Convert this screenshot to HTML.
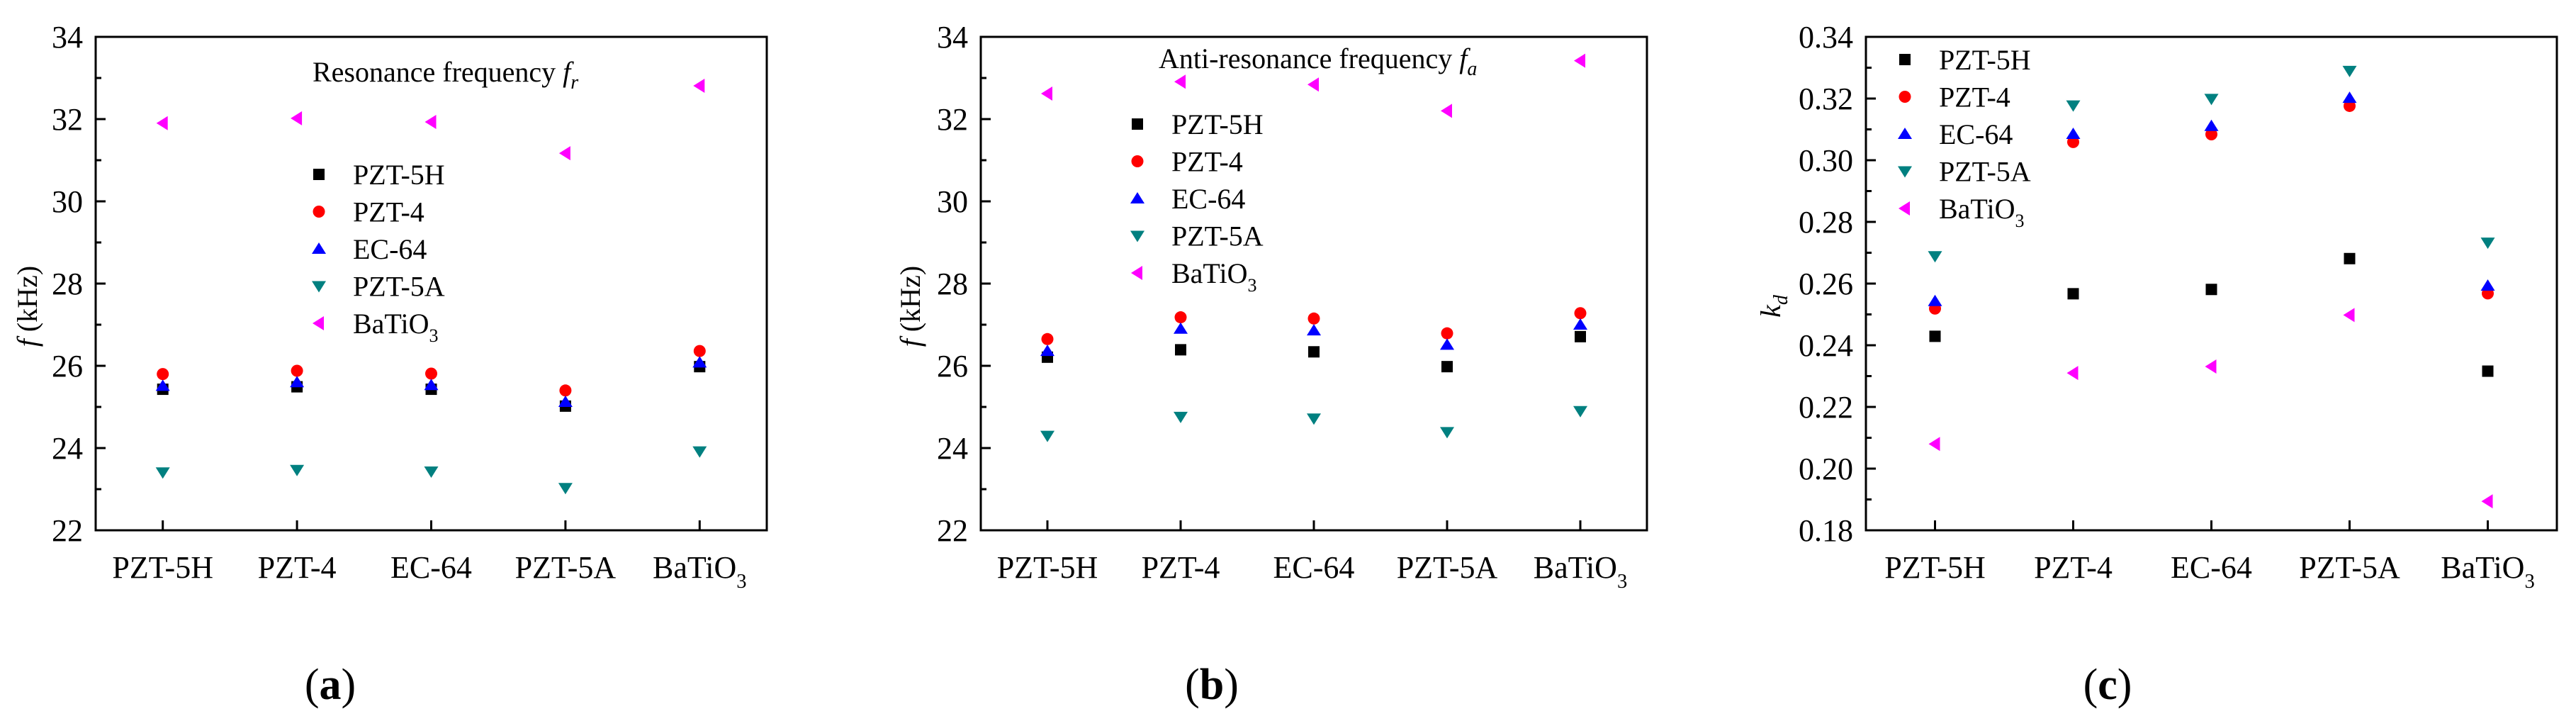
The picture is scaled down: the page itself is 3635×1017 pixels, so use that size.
<!DOCTYPE html>
<html><head><meta charset="utf-8"><style>
html,body{margin:0;padding:0;background:#fff;}
svg{display:block;}
text{font-family:"Liberation Serif",serif;fill:#000;}
</style></head><body>
<svg id="fig" width="3635" height="1017" viewBox="0 0 3635 1017" xmlns="http://www.w3.org/2000/svg"></svg>
<script>
const categories = ["PZT-5H","PZT-4","EC-64","PZT-5A","BaTiO3"];
const seriesNames = ["PZT-5H","PZT-4","EC-64","PZT-5A","BaTiO3"];
// panel a: resonance frequency (kHz)
const fr_PZT5H = [25.43,25.49,25.43,25.02,25.98];
const fr_PZT4  = [25.80,25.88,25.81,25.40,26.36];
const fr_EC64  = [25.51,25.60,25.53,25.12,26.08];
const fr_PZT5A = [23.41,23.47,23.43,23.03,23.92];
const fr_BaTiO3= [31.90,32.02,31.93,31.17,32.81];
// panel b: anti-resonance frequency (kHz)
const fa_PZT5H = [26.21,26.39,26.34,25.98,26.71];
const fa_PZT4  = [26.65,27.18,27.15,26.79,27.28];
const fa_EC64  = [26.36,26.90,26.86,26.51,27.00];
const fa_PZT5A = [24.30,24.76,24.72,24.39,24.90];
const fa_BaTiO3= [32.62,32.91,32.84,32.20,33.42];
// panel c: kd
const kd_PZT5H = [0.2429,0.2567,0.2581,0.2681,0.2316];
const kd_PZT4  = [0.2519,0.3059,0.3084,0.3176,0.2568];
const kd_EC64  = [0.2543,0.3085,0.3111,0.3202,0.2593];
const kd_PZT5A = [0.2689,0.3178,0.3199,0.3290,0.2733];
const kd_BaTiO3= [0.2080,0.2310,0.2331,0.2498,0.1894];
const freqTicks = [22,24,26,28,30,32,34];
const kdTicks = [0.18,0.20,0.22,0.24,0.26,0.28,0.30,0.32,0.34];

const NS="http://www.w3.org/2000/svg";
const svg=document.getElementById('fig');
function mk(tag,attrs,parent){const e=document.createElementNS(NS,tag);for(const k in attrs)e.setAttribute(k,attrs[k]);(parent||svg).appendChild(e);return e;}
const colors=["#000000","#ff0000","#0000ff","#008080","#ff00ff"];
const shapes=["square","circle","up","down","left"];

function marker(g,shape,cx,cy,color){
  let e;
  if(shape==="square") e=mk('rect',{x:cx-8,y:cy-8,width:16,height:16,fill:color},g);
  else if(shape==="circle") e=mk('circle',{cx:cx,cy:cy,r:8.5,fill:color},g);
  else if(shape==="up") e=mk('polygon',{points:`${cx-10},${cy+7} ${cx+10},${cy+7} ${cx},${cy-9}`,fill:color},g);
  else if(shape==="down") e=mk('polygon',{points:`${cx-10},${cy-7} ${cx+10},${cy-7} ${cx},${cy+9}`,fill:color},g);
  else e=mk('polygon',{points:`${cx+7},${cy-10} ${cx+7},${cy+10} ${cx-9},${cy}`,fill:color},g);
  return e;
}

function catLabel(g,txt,x,y,size){
  const t=mk('text',{x:x,y:y,'font-size':size,'text-anchor':'middle'},g);
  if(txt==="BaTiO3"){t.textContent="BaTiO";const s=mk('tspan',{'font-size':size*0.65,dy:14},t);s.textContent="3";}
  else t.textContent=txt;
  return t;
}

function panel(cfg){
  const g=mk('g',{});
  
  
  const L=cfg.left,R=cfg.right,T=52,B=748;
  const xs=i=>L+(i+0.5)*(R-L)/categories.length;
  const ys=v=>B-(v-cfg.ymin)/(cfg.ymax-cfg.ymin)*(B-T);
  // frame
  const fr=mk('rect',{x:L,y:T,width:R-L,height:B-T,fill:'none',stroke:'#000','stroke-width':3},g);
  
  
  // y ticks
  const tk=cfg.ticks;
  for(let i=0;i<tk.length;i++){
    const y=ys(tk[i]);
    mk('line',{x1:L,x2:L+14,y1:y,y2:y,stroke:'#000','stroke-width':3},g);
    if(i<tk.length-1){const ym=(y+ys(tk[i+1]))/2;mk('line',{x1:L,x2:L+8,y1:ym,y2:ym,stroke:'#000','stroke-width':3},g);}
    const t=mk('text',{x:L-18,y:y+15,'font-size':44,'text-anchor':'end'},g);
    
    
    t.textContent=cfg.fmt(tk[i]);
  }
  // x ticks
  categories.forEach((c,i)=>{
    const x=xs(i);
    mk('line',{x1:x,x2:x,y1:B,y2:B-14,stroke:'#000','stroke-width':3},g);
    const t=catLabel(g,c,x,815,44);
    
    
  });
  // series
  cfg.series.forEach((arr,si)=>{
    const sg=mk('g',{},g);
    
    
    arr.forEach((v,i)=>{
      const m=marker(sg,shapes[si],xs(i),ys(v),colors[si]);
      
      
    });
  });
  // legend
  const lg=mk('g',{},g);
  
  
  seriesNames.forEach((n,si)=>{
    const y=cfg.legY+si*52.5;
    marker(lg,shapes[si],cfg.legX,y,colors[si]);
    const t=mk('text',{x:cfg.legX+48,y:y+14,'font-size':40},lg);
    
    
    if(n==="BaTiO3"){t.textContent="BaTiO";const s=mk('tspan',{'font-size':26,dy:12},t);s.textContent="3";}
    else t.textContent=n;
  });
  // y label
  const yl=mk('text',{x:0,y:0,'font-size':40,'text-anchor':'middle',transform:`translate(${cfg.ylabX},432) rotate(-90)`},g);
  
  
  cfg.ylab(yl);
  // title
  if(cfg.title){
    const t=mk('text',{x:cfg.titleX,y:cfg.titleY,'font-size':40},g);
    
    
    t.textContent=cfg.title+" ";
    const f=mk('tspan',{'font-style':'italic'},t);f.textContent="f";
    const s=mk('tspan',{'font-style':'italic','font-size':28,dy:10},t);s.textContent=cfg.sub;
  }
  // panel letter
  const pl=mk('text',{x:cfg.letX,y:986,'font-size':62,'text-anchor':'middle'},g);
  
  
  const a=mk('tspan',{},pl);a.textContent="(";
  const b=mk('tspan',{'font-weight':'bold'},pl);b.textContent=cfg.letter;
  const c=mk('tspan',{},pl);c.textContent=")";
}

function freqLab(t){const f=mk('tspan',{'font-style':'italic'},t);f.textContent="f";const r=mk('tspan',{},t);r.textContent=" (kHz)";}

panel({name:'panel-a-resonance',left:135,right:1082,ymin:22,ymax:34,ticks:freqTicks,fmt:v=>String(v),
  series:[fr_PZT5H,fr_PZT4,fr_EC64,fr_PZT5A,fr_BaTiO3],legX:450,legY:246,ylabX:52,ylab:freqLab,
  title:"Resonance frequency",sub:"r",titleX:441,titleY:115,letter:"a",letX:466});
panel({name:'panel-b-antiresonance',left:1384,right:2324,ymin:22,ymax:34,ticks:freqTicks,fmt:v=>String(v),
  series:[fa_PZT5H,fa_PZT4,fa_EC64,fa_PZT5A,fa_BaTiO3],legX:1605,legY:175,ylabX:1298,ylab:freqLab,
  title:"Anti-resonance frequency",sub:"a",titleX:1635,titleY:96,letter:"b",letX:1710});
panel({name:'panel-c-kd',left:2633,right:3608,ymin:0.18,ymax:0.34,ticks:kdTicks,fmt:v=>v.toFixed(2),
  series:[kd_PZT5H,kd_PZT4,kd_EC64,kd_PZT5A,kd_BaTiO3],legX:2688,legY:84,ylabX:2512,
  ylab:t=>{const k=mk('tspan',{'font-style':'italic'},t);k.textContent="k";const d=mk('tspan',{'font-style':'italic','font-size':28,dy:10},t);d.textContent="d";},
  title:null,letter:"c",letX:2974});
</script>
</body></html>
